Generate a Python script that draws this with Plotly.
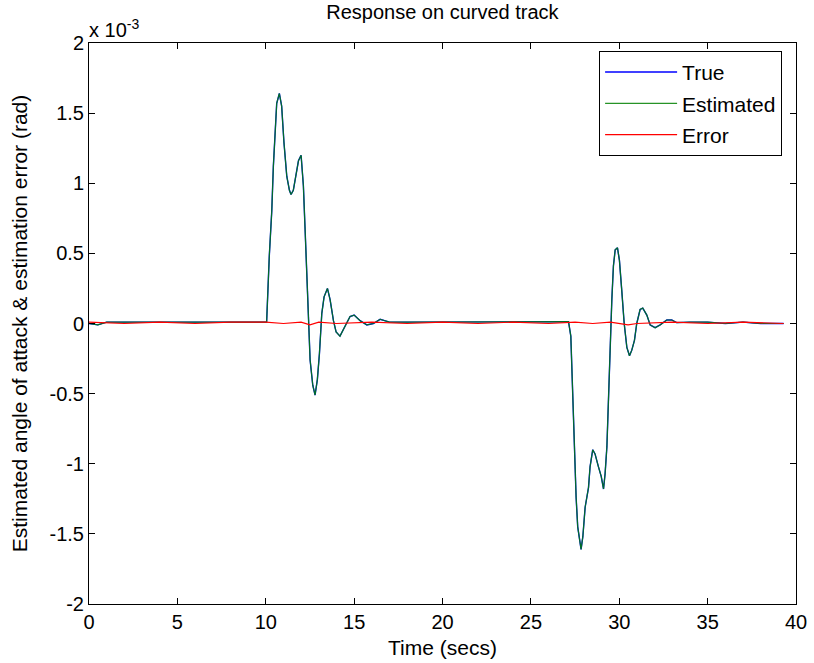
import plotly.graph_objects as go

# Time (s)
time_s = [0, 0.5, 1, 2, 3, 4, 5, 6, 7, 8, 9, 9.6, 10.05, 10.20, 10.34, 10.43, 10.53, 10.62, 10.77, 10.90,
          11.03, 11.19, 11.34, 11.43, 11.56, 11.71, 11.85, 12.00, 12.13, 12.22, 12.32,
          12.41, 12.51, 12.66, 12.79, 12.92, 13.04, 13.17, 13.30, 13.49, 13.64, 13.83,
          13.98, 14.20, 14.49, 14.77, 15.00, 15.34, 15.72, 16.09, 16.47, 17, 18, 20, 22,
          24, 26, 27.13, 27.26, 27.31, 27.41, 27.46, 27.56, 27.65, 27.78, 27.84, 27.94,
          28.07, 28.26, 28.35, 28.50, 28.63, 28.82, 28.98, 29.11, 29.20, 29.30, 29.39,
          29.49, 29.58, 29.67, 29.77, 29.90, 30.01, 30.14, 30.28, 30.43, 30.58, 30.71,
          30.86, 30.99, 31.18, 31.33, 31.56, 31.75, 32.03, 32.31, 32.69, 32.97, 33.25,
          34, 35, 36, 37, 38, 39.3]

# Angle of attack (x 1e-3 rad)
alpha_true = [0.0, -0.01, 0.01, 0.01, 0.01, 0.01, 0.01, 0.01, 0.01, 0.01, 0.01, 0.01, 0.01, 0.48, 0.80, 1.12, 1.38, 1.57, 1.64, 1.55,
              1.29, 1.05, 0.95, 0.92, 0.95, 1.05, 1.16, 1.20, 0.98, 0.69, 0.33,
              0.01, -0.26, -0.44, -0.51, -0.40, -0.21, 0.07, 0.19, 0.25, 0.17, 0.02,
              -0.06, -0.09, -0.02, 0.05, 0.06, 0.02, -0.01, 0.0, 0.03, 0.01, 0.01, 0.01, 0.01,
              0.01, 0.01, 0.013, -0.09, -0.31, -0.62, -0.95, -1.24, -1.45, -1.59, -1.61, -1.52,
              -1.31, -1.17, -1.02, -0.90, -0.93, -1.02, -1.09, -1.18, -1.07, -0.88, -0.50,
              -0.12, 0.17, 0.41, 0.525, 0.54, 0.45, 0.24, 0.0, -0.17, -0.23, -0.19,
              -0.12, 0.0, 0.10, 0.11, 0.06, -0.01, -0.03, -0.01, 0.025, 0.025, 0.006,
              0.01, 0.01, 0.0, 0.01, 0.0, 0.0]

alpha_est = list(alpha_true)

# Estimation error (x 1e-3 rad)
err_time = [0, 2, 4, 6, 8, 10, 11, 12, 12.5, 13, 14, 16, 18, 20, 22, 24, 26, 27.5,
            28.5, 29.5, 30.5, 31, 33, 35, 37, 39.3]
err_vals = [0.01, 0.0, 0.01, 0.0, 0.01, 0.01, 0.0, 0.01, -0.01, 0.01, 0.0, 0.01, 0.0,
            0.01, 0.0, 0.01, 0.0, 0.01, 0.0, 0.01, -0.01, 0.0, 0.01, 0.0, 0.01, 0.0]

x_ticks = [0, 5, 10, 15, 20, 25, 30, 35, 40]
y_ticks = [-2, -1.5, -1, -0.5, 0, 0.5, 1, 1.5, 2]
y_tick_text = ["-2", "-1.5", "-1", "-0.5", "0", "0.5", "1", "1.5", "2"]

FONT = "Liberation Sans, Arial, sans-serif"

fig = go.Figure()
fig.add_trace(go.Scatter(x=time_s, y=alpha_true, mode="lines", name="True",
                         line=dict(color="#0000ff", width=1.4), legendgroup="a"))
fig.add_trace(go.Scatter(x=time_s, y=alpha_est, mode="lines", name="Estimated",
                         line=dict(color="#008000", width=1.2), opacity=0.85, legendgroup="b"))
fig.add_trace(go.Scatter(x=err_time, y=err_vals, mode="lines", name="Error",
                         line=dict(color="#ff0000", width=1.2), legendgroup="c"))

axis_common = dict(showgrid=False, zeroline=False, showline=True, linecolor="black",
                   linewidth=1, mirror="ticks", ticks="inside", ticklen=6,
                   tickcolor="black", tickfont=dict(family=FONT, size=20, color="black"),
                   automargin=False)

fig.update_layout(
    width=814, height=663,
    margin=dict(l=89, r=18, t=43, b=59),
    paper_bgcolor="white", plot_bgcolor="white",
    font=dict(family=FONT, color="black"),
    title=dict(text="Response on curved track", x=0.5435, xanchor="center",
               y=0.992, yanchor="top", font=dict(size=20, family=FONT)),
    xaxis=dict(range=[0, 40], tickvals=x_ticks,
               title=dict(text="Time (secs)", font=dict(size=21, family=FONT), standoff=8),
               **axis_common),
    yaxis=dict(range=[-2, 2], tickvals=y_ticks, ticktext=y_tick_text,
               title=dict(text="Estimated angle of attack & estimation error (rad)",
                          font=dict(size=21, family=FONT), standoff=16),
               **axis_common),
    legend=dict(x=0.7215, y=0.986, xanchor="left", yanchor="top",
                bgcolor="white", bordercolor="black", borderwidth=1,
                font=dict(size=21, family=FONT), itemwidth=72, tracegroupgap=1,
                traceorder="grouped"),
    showlegend=True,
)

fig.add_annotation(text="x 10<sup>-3</sup>", xref="paper", yref="paper",
                   x=-0.003, y=1.0, xanchor="left", yanchor="bottom", showarrow=False,
                   font=dict(size=20, family=FONT, color="black"))

fig.write_html("out.html")
